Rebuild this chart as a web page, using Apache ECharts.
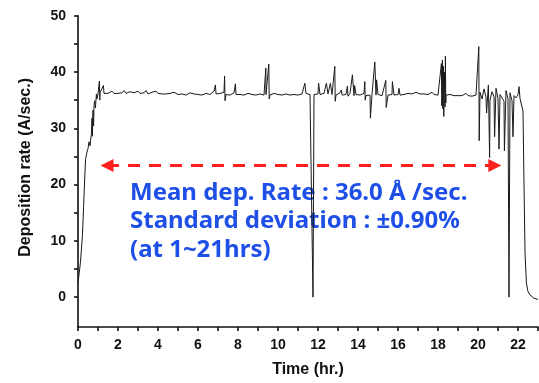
<!DOCTYPE html>
<html>
<head>
<meta charset="utf-8">
<script src="https://cdn.jsdelivr.net/npm/echarts@6/dist/echarts.min.js"></script>
<style>
  html, body { margin: 0; padding: 0; background: #fff; }
  #chart { width: 539px; height: 383px; }
</style>
</head>
<body>
<div id="chart"></div>
<script>
// ---------- data ----------
const rampUp = [[0.0,2.5],[0.05,2.8],[0.12,6.1],[0.22,10.8],[0.28,16.1],[0.34,21.5],[0.38,24.6],[0.45,25.8],[0.5,26.4],[0.55,27.6],[0.6,26.9],[0.67,29.0],[0.7,31.8],[0.72,28.6],[0.75,33.2],[0.78,30.4],[0.8,34.0],[0.83,34.9],[0.87,33.6],[0.92,36.1],[0.95,35.2]];

// plateau readings, one every 0.1 hr starting at 1.0 hr
const plateauStartHr = 1.0;
const plateauStepHr = 0.1;
const plateauRates = [
  36.1,36.3,36.0,36.2,36.4,36.2,36.1,36.6,36.2,36.3,
  36.2,36.1,36.3,36.7,36.2,36.1,36.5,36.2,36.3,36.1,
  36.6,36.2,36.0,36.3,36.7,36.1,36.2,36.4,36.1,36.6,
  36.2,36.0,36.1,36.3,36.1,36.0,36.2,36.1,36.4,36.1,
  36.0,36.2,36.1,36.0,35.9,36.1,36.3,36.0,36.1,36.2,
  36.0,36.1,35.9,36.0,36.2,36.1,36.0,36.3,36.6,36.1,
  36.0,36.2,36.1,36.4,36.0,36.1,35.9,36.1,36.3,36.0,
  36.1,36.0,36.1,35.9,36.0,36.2,36.1,36.0,36.1,35.9,
  36.0,36.1,36.0,35.9,36.0,36.1,35.9,36.0,36.2,36.0,
  36.0,36.1,35.9,36.0,36.1,36.0,35.9,36.1,36.0,36.1,
  35.9,36.0,36.1,36.0,36.2,35.9,36.0,36.1,36.0,35.9,
  36.1,36.0,35.9,36.2,36.0,36.1,35.8,36.0,36.2,35.9,
  36.0,36.3,35.9,36.1,36.0,35.7,36.2,36.1,35.8,36.0,
  36.1,35.9,36.0,36.2,35.8,36.1,35.9,36.0,36.3,35.9,
  36.0,36.1,35.8,36.0,36.2,35.9,36.1,36.0,35.9,36.1,
  36.0,35.9,36.1,36.0,36.1,36.2,36.0,36.1,36.3,36.4,
  36.2,36.1,36.0,36.1,35.9,36.0,36.1,36.4,36.0,35.9,
  35.9,36.0,35.8,36.1,35.9,35.8,36.0,35.9,35.8,35.9,
  35.8,35.9,35.8,35.9,36.2,35.8,35.9,35.7,35.8,35.9,
  35.6,36.4,35.2,37.0,35.5,36.8,35.0,36.5,35.6,37.1,
  35.3,36.0,35.9,34.8,36.7,35.2,36.3,34.9,35.8,35.4,
  36.0,35.3,35.5
];

// isolated spikes / dips [hour, rate]
const spikes = [
  [1.07,38.4],[1.09,35.0],[1.27,37.6],
  [6.87,37.7],[7.33,39.3],[7.35,34.9],[7.87,37.9],
  [9.39,40.7],[9.54,41.4],[9.56,35.2],
  [11.34,38.0],[11.75,0.0],
  [12.03,38.0],[12.42,38.0],[12.62,38.0],[12.84,41.0],[12.86,34.8],
  [13.17,36.8],[13.47,37.5],[13.72,39.5],[13.83,37.6],
  [14.34,38.3],[14.36,35.0],[14.62,31.8],[14.84,41.8],[14.93,38.6],
  [15.39,38.5],[15.41,33.7],[15.72,38.3],[16.05,37.1],
  [18.17,41.5],[18.19,34.0],[18.22,42.1],[18.24,33.5],[18.27,41.0],
  [18.29,32.1],[18.32,40.0],[18.35,33.8],[18.37,42.8],[18.39,34.5],
  [20.04,44.5],[20.06,27.8],[20.43,32.7],[20.52,37.7],[20.58,24.8],
  [20.83,28.5],[21.05,26.3],[21.32,26.0],[21.55,0.0],[21.75,28.5],[22.05,37.4]
];

const rampDown = [[22.25,33.0],[22.3,20.0],[22.35,8.0],[22.42,2.5],[22.5,1.0],[22.6,0.4],[22.7,0.1],[22.8,-0.2],[22.9,-0.3],[23.0,-0.4]];

const xTickValues = [0,1,2,3,4,5,6,7,8,9,10,11,12,13,14,15,16,17,18,19,20,21,22,23];
const xLabelValues = [0,2,4,6,8,10,12,14,16,18,20,22];
const yTickValues = [0,5,10,15,20,25,30,35,40,45,50];
const yLabelValues = [0,10,20,30,40,50];

const arrowFromHr = 1.12;
const arrowToHr = 21.17;
const arrowRate = 23.4;

const noteLines = [
  'Mean dep. Rate : 36.0 \u00C5 /sec.',
  'Standard deviation : \u00B10.90%',
  '(at 1~21hrs)'
];
const xTitle = 'Time (hr.)';
const yTitle = 'Deposition rate (A/sec.)';

// ---------- build series ----------
const plateau = plateauRates.map((v, i) => [Math.round((plateauStartHr + i * plateauStepHr) * 100) / 100, v]);
const allPoints = rampUp.concat(plateau, spikes, rampDown).sort((a, b) => a[0] - b[0]);

const chart = echarts.init(document.getElementById('chart'), null, { renderer: 'canvas' });
const labelFont = { fontFamily: 'Liberation Sans, Arial, sans-serif', fontWeight: 'bold', fontSize: 14, color: '#111' };
const axisLineStyle = { color: '#111', width: 1.6 };

const arrowHalf = 0.33; // symbol centred on end point
chart.setOption({
  animation: false,
  backgroundColor: '#ffffff',
  grid: { left: 78, right: 1, top: 15.7, bottom: 55.3, containLabel: false },
  xAxis: {
    type: 'value', min: 0, max: 23, position: 'bottom',
    name: xTitle, nameLocation: 'middle', nameGap: 35,
    nameTextStyle: Object.assign({}, labelFont, { fontSize: 16 }),
    axisLine: { show: true, onZero: false, lineStyle: axisLineStyle },
    axisTick: { show: true, length: 4, customValues: xTickValues, lineStyle: axisLineStyle },
    axisLabel: Object.assign({ customValues: xLabelValues, margin: 11 }, labelFont),
    splitLine: { show: false }
  },
  yAxis: {
    type: 'value', min: -5.3, max: 50, position: 'left',
    name: yTitle, nameLocation: 'middle', nameGap: 44, nameRotate: 90,
    nameTextStyle: Object.assign({}, labelFont, { fontSize: 16, padding: [0, 0, 0, 8] }),
    axisLine: { show: true, onZero: false, lineStyle: axisLineStyle },
    axisTick: { show: true, length: 4, customValues: yTickValues, lineStyle: axisLineStyle },
    axisLabel: Object.assign({ customValues: yLabelValues, margin: 12 }, labelFont),
    splitLine: { show: false }
  },
  series: [{
    type: 'line',
    data: allPoints,
    showSymbol: false,
    symbol: 'none',
    sampling: null,
    lineStyle: { color: '#1a1a1a', width: 1 },
    markLine: {
      silent: true,
      symbol: ['triangle', 'triangle'],
      symbolSize: [13, 13],
      label: { show: false },
      lineStyle: { color: '#ff1f1f', width: 3, type: [12, 9], opacity: 1 },
      data: [[{ coord: [arrowFromHr + arrowHalf, arrowRate] }, { coord: [arrowToHr - arrowHalf, arrowRate] }]]
    }
  }],
  graphic: noteLines.map((t, i) => ({
    type: 'text', left: 130, top: 181 + i * 28.5,
    style: { text: t, fill: '#1e4fe6', font: 'bold 24px "Noto Sans", sans-serif' }
  }))
});
</script>
</body>
</html>
